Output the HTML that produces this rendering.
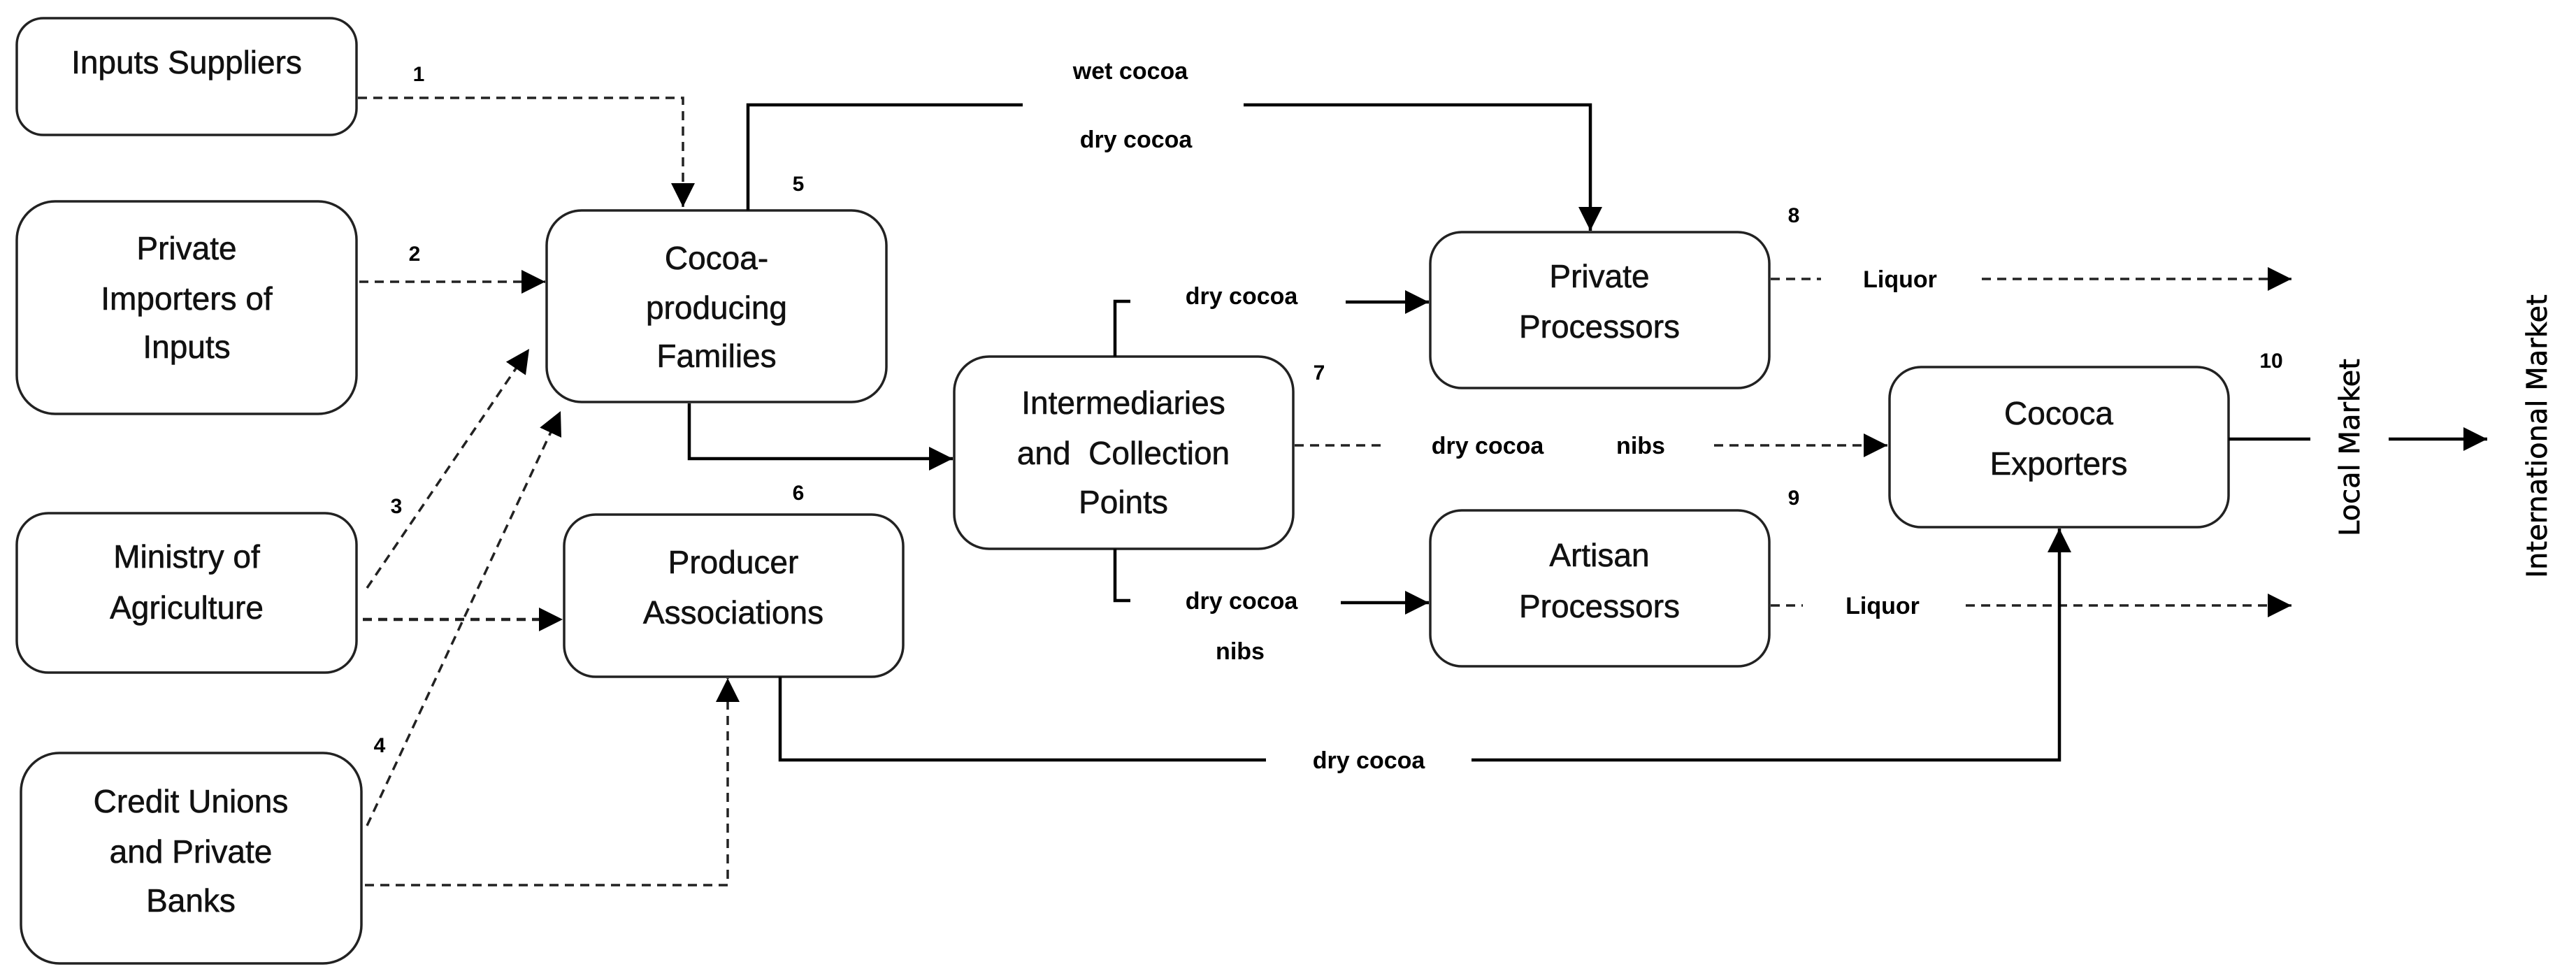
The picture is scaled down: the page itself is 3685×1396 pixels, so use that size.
<!DOCTYPE html>
<html><head><meta charset="utf-8"><style>
html,body{margin:0;padding:0;background:#fff}
svg{display:block}
.b{fill:#fff;stroke:#222;stroke-width:3.5}
.t{font-family:"Liberation Sans",sans-serif;font-size:46px;fill:#111;stroke:#111;stroke-width:0.6;text-anchor:middle}
.l{font-family:"Liberation Sans",sans-serif;font-size:34px;font-weight:bold;fill:#000;text-anchor:middle}
.n{font-family:"Liberation Sans",sans-serif;font-size:30px;font-weight:bold;fill:#000;text-anchor:middle}
.s{fill:none;stroke:#000;stroke-width:4.5}
.d{fill:none;stroke:#222;stroke-width:3.5;stroke-dasharray:13 9}
.r{font-family:"DejaVu Sans",sans-serif;font-size:40px;fill:#000;stroke:#000;stroke-width:0.6;text-anchor:middle}
</style></head><body>
<svg width="3685" height="1396" viewBox="0 0 3685 1396" xmlns="http://www.w3.org/2000/svg">
<defs>
<marker id="a" viewBox="0 0 10 10" refX="10" refY="5" markerWidth="34" markerHeight="36" markerUnits="userSpaceOnUse" orient="auto"><path d="M0,0L10,5L0,10z" fill="#000"/></marker>
</defs>
<rect class="b" x="24" y="26" width="486" height="167" rx="38"/>
<rect class="b" x="24" y="288" width="486" height="304" rx="55"/>
<rect class="b" x="24" y="734" width="486" height="228" rx="45"/>
<rect class="b" x="30" y="1077" width="487" height="301" rx="55"/>
<rect class="b" x="782" y="301" width="486" height="274" rx="50"/>
<rect class="b" x="807" y="736" width="485" height="232" rx="45"/>
<rect class="b" x="1365" y="510" width="485" height="275" rx="50"/>
<rect class="b" x="2046" y="332" width="485" height="223" rx="45"/>
<rect class="b" x="2046" y="730" width="485" height="223" rx="45"/>
<rect class="b" x="2703" y="525" width="485" height="229" rx="45"/>
<text class="t" x="267" y="105">Inputs Suppliers</text>
<text class="t" x="267" y="371">Private</text><text class="t" x="267" y="443">Importers of</text><text class="t" x="267" y="512">Inputs</text>
<text class="t" x="267" y="812">Ministry of</text><text class="t" x="267" y="885">Agriculture</text>
<text class="t" x="273" y="1162">Credit Unions</text><text class="t" x="273" y="1234">and Private</text><text class="t" x="273" y="1304">Banks</text>
<text class="t" x="1025" y="385">Cocoa-</text><text class="t" x="1025" y="456">producing</text><text class="t" x="1025" y="525">Families</text>
<text class="t" x="1049" y="820">Producer</text><text class="t" x="1049" y="892">Associations</text>
<text class="t" x="1607" y="592">Intermediaries</text><text class="t" x="1607" y="664">and&#160; Collection</text><text class="t" x="1607" y="734">Points</text>
<text class="t" x="2288" y="411">Private</text><text class="t" x="2288" y="483">Processors</text>
<text class="t" x="2288" y="810">Artisan</text><text class="t" x="2288" y="883">Processors</text>
<text class="t" x="2945" y="607">Cococa</text><text class="t" x="2945" y="679">Exporters</text>
<text class="n" x="599" y="116">1</text><text class="n" x="593" y="373">2</text>
<text class="n" x="567" y="734">3</text><text class="n" x="543" y="1076">4</text>
<text class="n" x="1142" y="273">5</text><text class="n" x="1142" y="715">6</text>
<text class="n" x="1887" y="543">7</text><text class="n" x="2566" y="318">8</text>
<text class="n" x="2566" y="722">9</text><text class="n" x="3249" y="526">10</text>
<path class="d" d="M512,140H977V296" marker-end="url(#a)"/>
<path class="d" d="M514,403H780" marker-end="url(#a)"/>
<path class="d" d="M525,841L757,499" marker-end="url(#a)"/>
<path class="d" d="M525,1181L802,588" marker-end="url(#a)"/>
<path class="d" d="M519,886H805" marker-end="url(#a)" style="stroke-width:4.5"/>
<path class="d" d="M522,1266H1041V970" marker-end="url(#a)"/>
<path class="d" d="M1852,637H1979"/>
<path class="d" d="M2452,637H2700" marker-end="url(#a)"/>
<path class="d" d="M2533,399H2605"/>
<path class="d" d="M2835,399H3278" marker-end="url(#a)"/>
<path class="d" d="M2533,866H2579"/>
<path class="d" d="M2812,866H3278" marker-end="url(#a)"/>
<path class="s" d="M1070,301V150H1463"/>
<path class="s" d="M1779,150H2275V330" marker-end="url(#a)"/>
<path class="s" d="M986,577V656H1363" marker-end="url(#a)"/>
<path class="s" d="M1595,510V431H1617"/>
<path class="s" d="M1925,432H2044" marker-end="url(#a)"/>
<path class="s" d="M1595,785V859H1617"/>
<path class="s" d="M1918,862H2044" marker-end="url(#a)"/>
<path class="s" d="M1116,968V1087H1811"/>
<path class="s" d="M2105,1087H2946V756" marker-end="url(#a)"/>
<path class="s" d="M3188,628H3305"/>
<path class="s" d="M3417,628H3558" marker-end="url(#a)"/>
<text class="l" x="1617" y="113">wet cocoa</text>
<text class="l" x="1625" y="211">dry cocoa</text>
<text class="l" x="1776" y="435">dry cocoa</text>
<text class="l" x="1776" y="871">dry cocoa</text>
<text class="l" x="1774" y="943">nibs</text>
<text class="l" x="2128" y="649">dry cocoa</text>
<text class="l" x="2347" y="649">nibs</text>
<text class="l" x="2718" y="411">Liquor</text>
<text class="l" x="2693" y="878">Liquor</text>
<text class="l" x="1958" y="1099">dry cocoa</text>
<text class="r" transform="translate(3375,640) rotate(-90)">Local Market</text>
<text class="r" transform="translate(3643,624) rotate(-90)">International Market</text>
</svg>
</body></html>
